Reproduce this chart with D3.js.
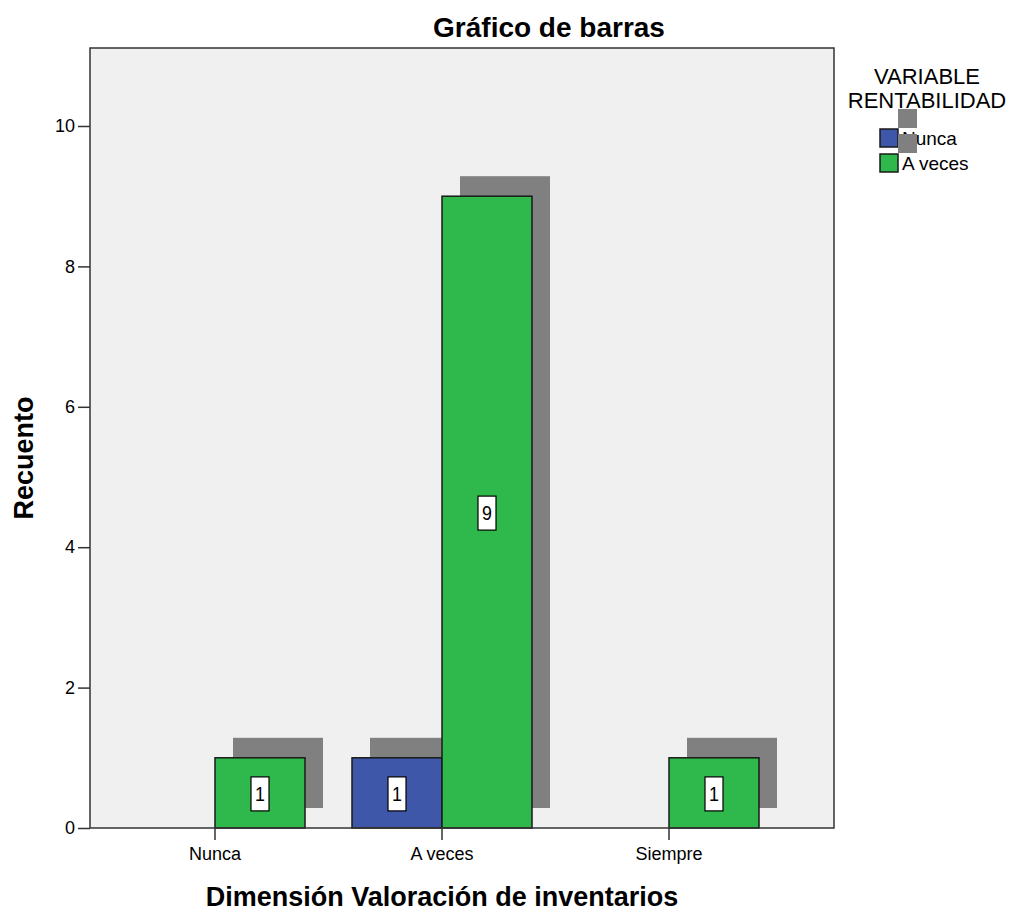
<!DOCTYPE html>
<html>
<head>
<meta charset="utf-8">
<script src="https://cdn.jsdelivr.net/npm/d3@7"></script>
<style>
  body { margin: 0; background: #fff; }
  text { font-family: 'Liberation Sans', Arial, sans-serif; fill: #000; }
</style>
</head>
<body>
<svg id="chart"></svg>
<script>
// Chart data
var categories = ['Nunca', 'A veces', 'Siempre'];
var seriesNames = ['Nunca', 'A veces'];
var seriesNunca = [0, 1, 0];
var seriesAVeces = [1, 9, 1];
var yTicks = [0, 2, 4, 6, 8, 10];

var colors = ['#3e57a8', '#2fb84b'];
var shadowColor = '#808080';

// Canvas size
var canvasWidth = 1013;
var canvasHeight = 912;

// Plot frame
var plot = { left: 90, right: 834, top: 48, bottom: 828 };
var shadow = { dx: 18, dy: -20 };

var svg = d3.select('#chart')
  .attr('width', canvasWidth)
  .attr('height', canvasHeight);

// Scales
var xScale = d3.scaleBand()
  .domain(categories)
  .range([101.5, 782.5]);

var subScale = d3.scaleBand()
  .domain(seriesNames)
  .range([-90, 90]);

var yScale = d3.scaleLinear()
  .domain([0, 10])
  .range([plot.bottom, 126]);

// Plot background
svg.append('rect')
  .attr('x', plot.left)
  .attr('y', plot.top)
  .attr('width', plot.right - plot.left)
  .attr('height', plot.bottom - plot.top)
  .attr('fill', '#f0f0f0');

// Build bar records
var bars = [];
categories.forEach(function(c, i) {
  [seriesNunca, seriesAVeces].forEach(function(s, j) {
    if (s[i] > 0) {
      bars.push({ category: c, series: seriesNames[j], value: s[i], index: j });
    }
  });
});

function barX(d) {
  return xScale(d.category) + xScale.bandwidth() / 2 + subScale(d.series);
}

// Shadows
svg.append('g')
  .classed('shadows', true)
  .selectAll('rect')
  .data(bars)
  .enter()
  .append('rect')
  .attr('x', function(d) { return barX(d) + shadow.dx; })
  .attr('y', function(d) { return yScale(d.value) + shadow.dy; })
  .attr('width', subScale.bandwidth())
  .attr('height', function(d) { return yScale(0) - yScale(d.value); })
  .attr('fill', shadowColor);

// Bars
svg.append('g')
  .classed('bars', true)
  .selectAll('rect')
  .data(bars)
  .enter()
  .append('rect')
  .attr('x', function(d) { return barX(d); })
  .attr('y', function(d) { return yScale(d.value); })
  .attr('width', subScale.bandwidth())
  .attr('height', function(d) { return yScale(0) - yScale(d.value); })
  .attr('fill', function(d) { return colors[d.index]; })
  .attr('stroke', '#1a1a1a')
  .attr('stroke-width', 1.5);

// Value labels
var labels = svg.append('g')
  .classed('value-labels', true)
  .selectAll('g')
  .data(bars)
  .enter()
  .append('g')
  .attr('transform', function(d) {
    var cx = barX(d) + subScale.bandwidth() / 2;
    var cy = (yScale(d.value) + yScale(0)) / 2;
    return 'translate(' + cx + ',' + cy + ')';
  });

labels.append('rect')
  .attr('x', -9)
  .attr('y', -16)
  .attr('width', 18)
  .attr('height', 34)
  .attr('fill', '#fff')
  .attr('stroke', '#000')
  .attr('stroke-width', 1.2);

labels.append('text')
  .attr('text-anchor', 'middle')
  .attr('y', 8)
  .style('font-size', '21px')
  .attr('transform', 'scale(0.85,1)')
  .text(function(d) { return d.value; });

// Plot frame
svg.append('rect')
  .attr('x', plot.left)
  .attr('y', plot.top)
  .attr('width', plot.right - plot.left)
  .attr('height', plot.bottom - plot.top)
  .attr('fill', 'none')
  .attr('stroke', '#333')
  .attr('stroke-width', 1.5);

// Axes
var yAxis = d3.axisLeft(yScale)
  .tickValues(yTicks)
  .tickSize(12)
  .tickPadding(3);

var xAxis = d3.axisBottom(xScale)
  .tickSize(12)
  .tickPadding(7);

var yAxisG = svg.append('g')
  .attr('transform', 'translate(' + plot.left + ',0)')
  .call(yAxis);

var xAxisG = svg.append('g')
  .attr('transform', 'translate(0,' + plot.bottom + ')')
  .call(xAxis);

[yAxisG, xAxisG].forEach(function(g) {
  g.select('.domain').remove();
  g.selectAll('.tick line').attr('stroke', '#333').attr('stroke-width', 1.5);
  g.selectAll('.tick text')
    .style('font-size', '18px')
    .style('font-family', "'Liberation Sans', Arial, sans-serif")
    .attr('fill', '#222');
});

// Titles
svg.append('text')
  .attr('x', 549)
  .attr('y', 37)
  .attr('text-anchor', 'middle')
  .style('font-size', '28px')
  .style('font-weight', 'bold')
  .text('Gráfico de barras');

svg.append('text')
  .attr('x', 442)
  .attr('y', 906)
  .attr('text-anchor', 'middle')
  .style('font-size', '27px')
  .style('font-weight', 'bold')
  .text('Dimensión Valoración de inventarios');

svg.append('text')
  .attr('transform', 'translate(33,458) rotate(-90)')
  .attr('text-anchor', 'middle')
  .style('font-size', '27px')
  .style('font-weight', 'bold')
  .text('Recuento');

// Legend
var legend = svg.append('g')
  .attr('transform', 'translate(880,0)');

legend.append('text')
  .attr('x', 47)
  .attr('y', 84)
  .attr('text-anchor', 'middle')
  .style('font-size', '22px')
  .text('VARIABLE');

legend.append('text')
  .attr('x', 47)
  .attr('y', 108)
  .attr('text-anchor', 'middle')
  .style('font-size', '22px')
  .text('RENTABILIDAD');

var items = legend.selectAll('.item')
  .data(seriesNames)
  .enter()
  .append('g')
  .classed('item', true)
  .attr('transform', function(d, i) {
    return 'translate(0,' + (129 + i * 25) + ')';
  });

items.append('rect')
  .attr('x', shadow.dx)
  .attr('y', shadow.dy)
  .attr('width', 19)
  .attr('height', 19)
  .attr('fill', shadowColor);

items.append('rect')
  .attr('width', 18)
  .attr('height', 18)
  .attr('fill', function(d, i) { return colors[i]; })
  .attr('stroke', '#1a1a1a')
  .attr('stroke-width', 1.5);

items.append('text')
  .attr('x', 22)
  .attr('y', 16)
  .style('font-size', '19px')
  .text(function(d) { return d; });
</script>
</body>
</html>
